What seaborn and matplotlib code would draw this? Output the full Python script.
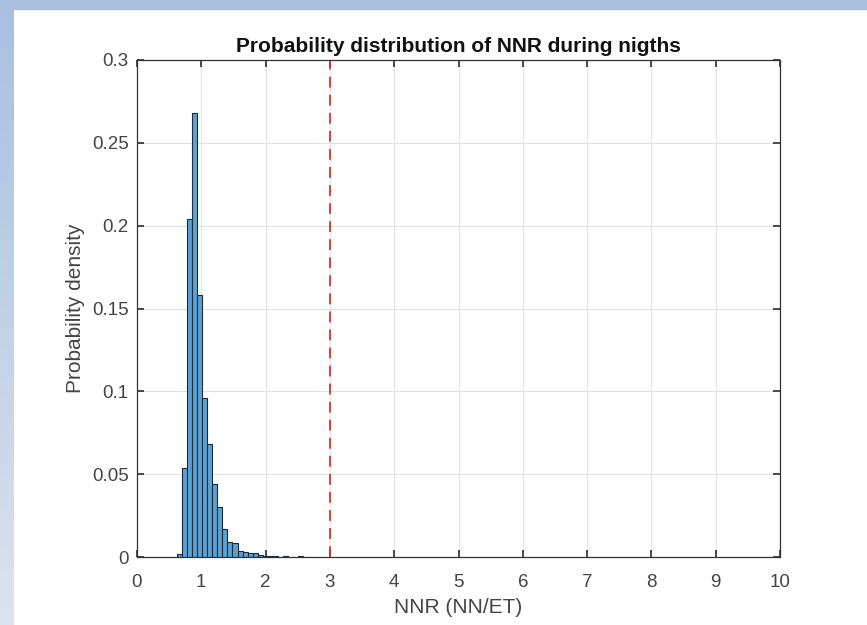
import numpy as np
import matplotlib
matplotlib.use("Agg")
import matplotlib.pyplot as plt
import seaborn as sns
import pandas as pd

# ---- data ----
bin_start = 0.627
bin_width = 0.078
probabilities = [0.002, 0.054, 0.204, 0.268, 0.158, 0.096, 0.068, 0.044,
                 0.030, 0.017, 0.0092, 0.0083, 0.0035, 0.0032, 0.0024, 0.0022,
                 0.0010, 0.0008, 0.0007, 0.0005, 0.0003, 0.0006, 0.0002, 0.0003,
                 0.0005]
threshold = 3
x_ticks = list(range(0, 11))
y_ticks = [0, 0.05, 0.1, 0.15, 0.2, 0.25, 0.3]
y_ticklabels = ["0", "0.05", "0.1", "0.15", "0.2", "0.25", "0.3"]

n_bins = len(probabilities)
edges = bin_start + bin_width * np.arange(n_bins + 1)
centers = (edges[:-1] + edges[1:]) / 2
df = pd.DataFrame({"NNR": centers, "p": probabilities})

sns.set_theme(style="white")
plt.rcParams["font.family"] = ["Liberation Sans", "DejaVu Sans"]

fig = plt.figure(figsize=(8.67, 6.25), dpi=100)

# screenshot frame (blue strip on top and left)
bg = fig.add_axes([0, 0, 1, 1], zorder=-5)
bg.set_axis_off()
bg.set_xlim(0, 867)
bg.set_ylim(625, 0)
grad = np.linspace(0, 1, 200)[:, None]
top_c = np.array([0.66, 0.75, 0.88])
bot_c = np.array([0.86, 0.89, 0.93])
img = top_c[None, None, :] * (1 - grad[:, :, None]) + bot_c[None, None, :] * grad[:, :, None]
bg.imshow(img, extent=[0, 14, 625, 0], aspect="auto")
bg.add_patch(plt.Rectangle((0, 0), 867, 9, color=top_c))

ax = fig.add_axes([137 / 867, 1 - 557 / 625, (780 - 137) / 867, (557 - 60) / 625])
sns.histplot(data=df, x="NNR", weights="p", bins=n_bins,
             binrange=(float(edges[0]), float(edges[-1])), stat="count",
             color="#5aa2d6", alpha=1.0, edgecolor="#1f2a33", linewidth=0.8, ax=ax)
ax.axvline(threshold, color="#e0302c", linestyle=(0, (6, 4)), linewidth=1.3)

ax.set_xlim(0, 10)
ax.set_ylim(0, 0.3)
ax.set_xticks(x_ticks)
ax.set_yticks(y_ticks)
ax.set_yticklabels(y_ticklabels)
ax.grid(True, color="#e3e3e3", linewidth=0.8)
ax.set_axisbelow(True)
ax.tick_params(direction="in", length=5, color="#333333", labelsize=13.5,
               labelcolor="#444444", top=True, right=True, bottom=True, left=True)
ax.tick_params(axis="x", pad=12)
ax.tick_params(axis="y", pad=6)
for s in ax.spines.values():
    s.set_color("#333333")
    s.set_linewidth(0.9)
ax.set_xlabel("NNR (NN/ET)", fontsize=15, color="#444444", labelpad=5)
ax.set_ylabel("Probability density", fontsize=15, color="#444444", labelpad=5)
ax.set_title("Probability distribution of NNR during nigths", fontsize=15,
             fontweight="bold", color="#111111", pad=6)

fig.savefig("out.png", dpi=100)
